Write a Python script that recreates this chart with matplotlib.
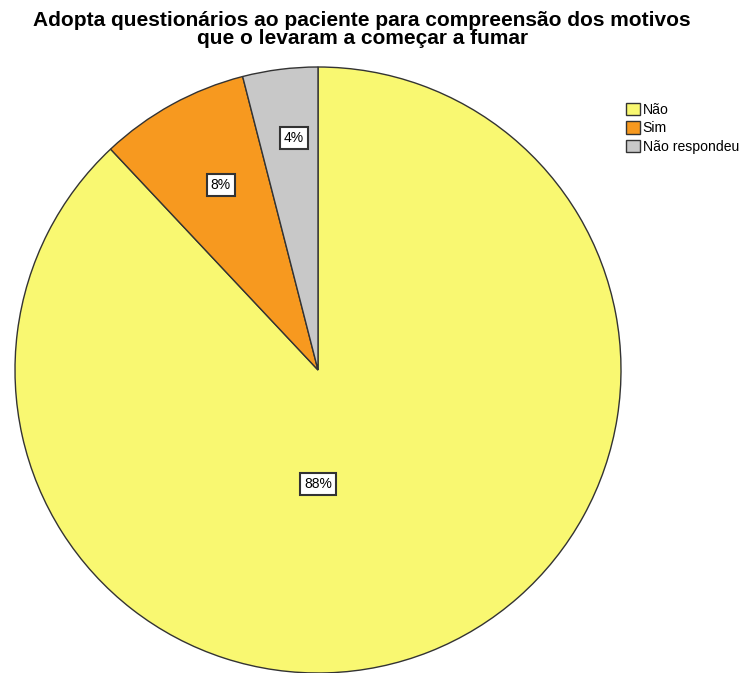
import numpy as np
import matplotlib
matplotlib.use("Agg")
import matplotlib.pyplot as plt

plt.rcParams['font.family'] = ['Liberation Sans', 'DejaVu Sans']

# answers and their shares (%)
categories = ["Não", "Sim", "Não respondeu"]
values = [88, 8, 4]
colors = ["#f9f871", "#f7991f", "#c8c8c8"]

title = "Adopta questionários ao paciente para compreensão dos motivos\nque o levaram a começar a fumar"

fig = plt.figure(figsize=(7.42, 6.73), dpi=100)
ax = fig.add_axes([15 / 742, 0.0, 606 / 742, 606 / 673])

wedges, _ = ax.pie(values, colors=colors, startangle=90, counterclock=False,
                   wedgeprops=dict(edgecolor="#333333", linewidth=1.0))
for w in wedges:
    w.set_clip_on(False)
ax.set_xlim(-1, 1)
ax.set_ylim(-1, 1)
ax.set_aspect("equal")

# label placement: angle (deg) and distance from centre for each slice
label_pos = [(-90, 0.375), (117.7, 0.69), (95.9, 0.77)]
for v, (ang, d) in zip(values, label_pos):
    x = d * np.cos(np.radians(ang))
    y = d * np.sin(np.radians(ang))
    ax.text(x, y, f"{v}%", ha="center", va="center", fontsize=10,
            bbox=dict(boxstyle="square,pad=0.28", fc="white", ec="#333333", lw=1.5))

fig.text(0.488, 1 - 11 / 673, title, ha="center", va="top",
         fontsize=15, fontweight="bold", linespacing=0.93)

fig.legend(wedges, categories, loc="upper left",
           bbox_to_anchor=(616 / 742, 1 - 93 / 673), frameon=False,
           fontsize=10.1, handlelength=1.0, handleheight=0.95,
           handletextpad=0.2, labelspacing=0.32, borderpad=0.2)

fig.savefig("out.png", dpi=100)
